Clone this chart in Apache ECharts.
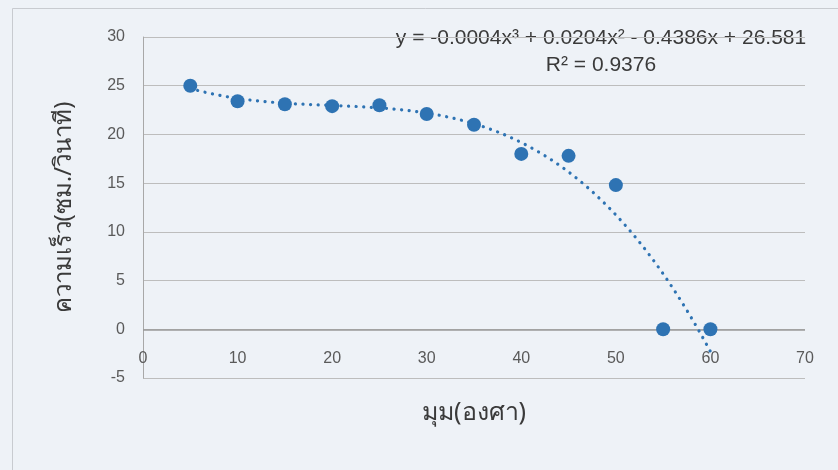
<!DOCTYPE html>
<html>
<head>
<meta charset="utf-8">
<script src="https://cdn.jsdelivr.net/npm/echarts@6/dist/echarts.min.js"></script>
<style>
html,body{margin:0;padding:0;background:#eef2f7;}
#chart{width:838px;height:470px;}
</style>
</head>
<body>
<div id="chart"></div>
<script>
// Data
const angles = [5, 10, 15, 20, 25, 30, 35, 40, 45, 50, 55, 60];
const speeds = [25.0, 23.4, 23.1, 22.9, 23.0, 22.1, 21.0, 18.0, 17.8, 14.8, 0, 0];
const xTicks = [0, 10, 20, 30, 40, 50, 60, 70];
const yTicks = [-5, 0, 5, 10, 15, 20, 25, 30];
const xTitle = 'มุม(องศา)';
const yTitle = 'ความเร็ว(ซม./วินาที)';
const equationText = 'y = -0.0004x³ + 0.0204x² - 0.4386x + 26.581';
const r2Text = 'R² = 0.9376';

// Polynomial (order 3) least-squares trendline, like the spreadsheet's
function polyFit(xs, ys, order) {
  const n = order + 1;
  const A = [];
  for (let i = 0; i < n; i++) A.push(new Array(n + 1).fill(0));
  for (let k = 0; k < xs.length; k++) {
    for (let i = 0; i < n; i++) {
      for (let j = 0; j < n; j++) A[i][j] += Math.pow(xs[k], i + j);
      A[i][n] += ys[k] * Math.pow(xs[k], i);
    }
  }
  for (let i = 0; i < n; i++) {
    let p = i;
    for (let r = i + 1; r < n; r++) if (Math.abs(A[r][i]) > Math.abs(A[p][i])) p = r;
    [A[i], A[p]] = [A[p], A[i]];
    for (let r = 0; r < n; r++) {
      if (r === i) continue;
      const f = A[r][i] / A[i][i];
      for (let c = i; c <= n; c++) A[r][c] -= f * A[i][c];
    }
  }
  return A.map((row, i) => row[n] / row[i]);
}
const coef = polyFit(angles, speeds, 3);
const trend = [];
for (let x = angles[0]; x <= angles[angles.length - 1] + 1e-9; x += 0.5) {
  let y = 0;
  for (let i = 0; i < coef.length; i++) y += coef[i] * Math.pow(x, i);
  trend.push([x, y]);
}

const blue = '#2e73b3';
const chart = echarts.init(document.getElementById('chart'));
chart.setOption({
  backgroundColor: '#eef2f7',
  animation: false,
  grid: { left: 143, right: 33, top: 37, bottom: 92 },
  xAxis: {
    type: 'value', min: xTicks[0], max: xTicks[xTicks.length - 1], interval: 10,
    name: xTitle, nameLocation: 'middle', nameGap: 22,
    nameTextStyle: { fontSize: 25, color: '#3a3a3a', fontFamily: 'Noto Sans, DejaVu Sans, sans-serif' },
    axisLine: { show: false, onZero: false },
    axisTick: { show: false },
    axisLabel: { margin: -27, fontSize: 16, color: '#5a5a5a', fontFamily: 'Liberation Sans, sans-serif' },
    splitLine: { show: false }
  },
  yAxis: {
    type: 'value', min: yTicks[0], max: yTicks[yTicks.length - 1], interval: 5,
    name: yTitle, nameLocation: 'middle', nameGap: 67, nameRotate: 90,
    nameTextStyle: { fontSize: 24, color: '#3a3a3a', fontFamily: 'Noto Sans, DejaVu Sans, sans-serif' },
    axisLine: { show: true, lineStyle: { color: '#a8a8a8', width: 1 } },
    axisTick: { show: false },
    axisLabel: { margin: 18, fontSize: 16, color: '#5a5a5a', fontFamily: 'Liberation Sans, sans-serif' },
    splitLine: { show: true, lineStyle: { color: '#bdbdbd', width: 1.2 } }
  },
  series: [
    {
      type: 'line', data: trend, showSymbol: false, symbol: 'none', smooth: false,
      lineStyle: { color: blue, width: 3.2, type: [0.1, 7.5], cap: 'round' },
      silent: true, z: 2
    },
    {
      type: 'scatter', data: angles.map((a, i) => [a, speeds[i]]),
      symbolSize: 14, itemStyle: { color: blue, opacity: 1 }, z: 3,
      markLine: {
        silent: true, symbol: 'none', label: { show: false },
        lineStyle: { color: '#9a9a9a', width: 1.6, type: 'solid' },
        data: [{ yAxis: 0 }], z: 1
      }
    }
  ],
  graphic: [
    { type: 'rect', left: 10, top: 6, shape: { width: 840, height: 462 },
      style: { fill: 'none', stroke: '#c8cbd0', lineWidth: 1 }, silent: true },
    { type: 'text', x: 601, y: 38, style: { text: equationText, fontSize: 21, fill: '#3a3a3a',
      fontFamily: 'Liberation Sans, sans-serif', align: 'center', verticalAlign: 'middle' } },
    { type: 'text', x: 601, y: 65, style: { text: r2Text, fontSize: 21, fill: '#3a3a3a',
      fontFamily: 'Liberation Sans, sans-serif', align: 'center', verticalAlign: 'middle' } }
  ]
});
</script>
</body>
</html>
